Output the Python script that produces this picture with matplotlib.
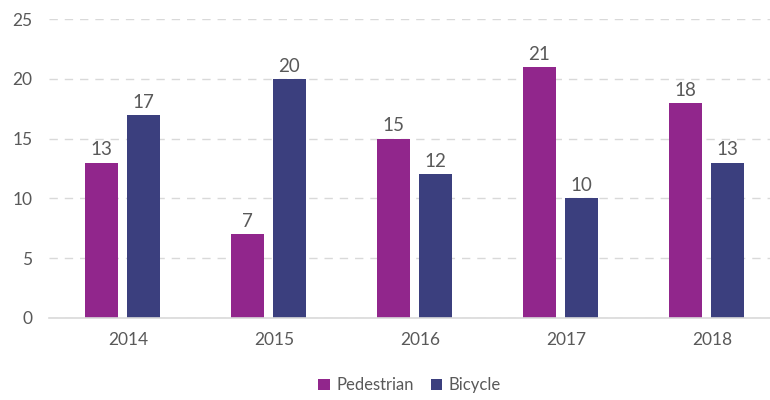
import numpy as np
import matplotlib.pyplot as plt
import matplotlib.transforms as mtransforms

plt.rcParams['font.family'] = ['Lato', 'DejaVu Sans']

# Data
years = ['2014', '2015', '2016', '2017', '2018']
pedestrian = [13, 7, 15, 21, 18]
bicycle = [17, 20, 12, 10, 13]

ped_color = '#91268C'
bike_color = '#3B3F7E'
text_color = '#595959'

fig = plt.figure(figsize=(7.7, 4), dpi=100)
ax = fig.add_axes([0.064, 0.205, 0.948, 0.7475])

x = np.arange(len(years))
w = 0.226
off = 0.144
b1 = ax.bar(x - off, pedestrian, w, color=ped_color, label='Pedestrian')
b2 = ax.bar(x + off, bicycle, w, color=bike_color, label='Bicycle')

for bars in (b1, b2):
    ax.bar_label(bars, padding=3, fontsize=13.5, color=text_color)

ax.set_xlim(-0.5, len(years) - 0.5)
ax.set_ylim(0, 25)
ax.set_yticks(range(0, 26, 5))
ax.set_xticks(x)
ax.set_xticklabels(years)
ax.tick_params(axis='both', length=0, labelsize=12.5, labelcolor=text_color)
ax.tick_params(axis='x', pad=10)
ax.tick_params(axis='y', pad=12)

# x labels in the original sit a little right of the bar pairs
shift = mtransforms.ScaledTranslation(6 / 100, 0, fig.dpi_scale_trans)
for lab in ax.get_xticklabels():
    lab.set_transform(lab.get_transform() + shift)

ax.grid(axis='y', color='#D9D9D9', linestyle=(0, (6, 5)), linewidth=1)
ax.set_axisbelow(True)
for s in ['top', 'right', 'left']:
    ax.spines[s].set_visible(False)
ax.spines['bottom'].set_color('#D9D9D9')
ax.spines['bottom'].set_linewidth(1.2)

fig.legend(loc='center', bbox_to_anchor=(0.532, 0.037), ncol=2, frameon=False,
           fontsize=12, labelcolor=text_color, handlelength=0.7, handleheight=0.7,
           handletextpad=0.4, columnspacing=1.0)

fig.savefig('out.png', dpi=100)
